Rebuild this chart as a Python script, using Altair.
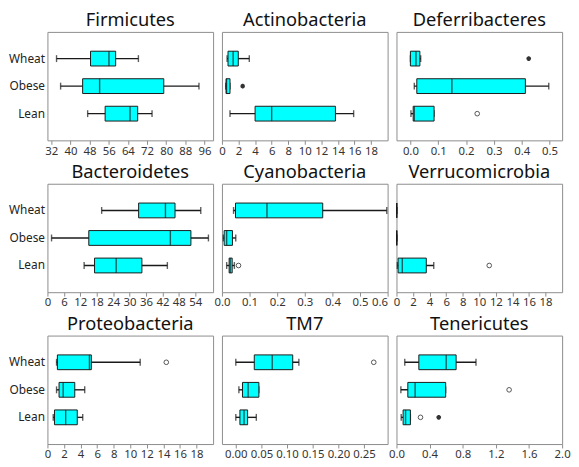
import altair as alt
import pandas as pd

GROUPS = ["Wheat", "Obese", "Lean"]
PHYLA = ["Firmicutes", "Actinobacteria", "Deferribacteres",
         "Bacteroidetes", "Cyanobacteria", "Verrucomicrobia",
         "Proteobacteria", "TM7", "Tenericutes"]

# rows = Wheat, Obese, Lean ; columns = [whisker low, Q1, median, Q3, whisker high]
firmicutes = [[34.2, 48.4, 56.1, 58.9, 68.4], [35.9, 45.1, 52.2, 79.0, 93.7], [47.2, 54.5, 64.9, 68.1, 74.1]]
actinobacteria = [[0.62, 0.73, 1.35, 1.97, 3.3], [0.45, 0.5, 0.55, 0.97, 0.97], [0.97, 4.0, 6.0, 13.7, 15.9]]
deferribacteres = [[0.0, 0.0, 0.02, 0.034, 0.037], [0.014, 0.023, 0.149, 0.413, 0.497], [0.002, 0.01, 0.014, 0.085, 0.085]]
bacteroidetes = [[19.8, 33.3, 43.1, 46.6, 56.0], [1.5, 15.1, 44.9, 52.4, 58.8], [13.4, 17.2, 25.1, 34.5, 43.8]]
cyanobacteria = [[0.042, 0.049, 0.163, 0.365, 0.597], [0.005, 0.008, 0.017, 0.038, 0.05], [0.017, 0.026, 0.03, 0.037, 0.045]]
verrucomicrobia = [[0.03, 0.03, 0.03, 0.03, 0.03], [0.03, 0.03, 0.03, 0.03, 0.03], [0.1, 0.2, 0.7, 3.6, 4.5]]
proteobacteria = [[1.1, 1.2, 5.07, 5.3, 11.2], [1.1, 1.4, 1.9, 3.3, 4.5], [0.7, 0.85, 2.2, 3.6, 4.26]]
tm7 = [[0.0, 0.036, 0.071, 0.111, 0.123], [0.006, 0.013, 0.024, 0.045, 0.045], [0.0, 0.008, 0.016, 0.023, 0.04]]
tenericutes = [[0.1, 0.27, 0.6, 0.72, 0.96], [0.053, 0.137, 0.225, 0.594, 0.594], [0.057, 0.08, 0.11, 0.168, 0.168]]

STATS = [firmicutes, actinobacteria, deferribacteres, bacteroidetes, cyanobacteria,
         verrucomicrobia, proteobacteria, tm7, tenericutes]

# outliers: phylum, group, value
mild_phylum = ["Deferribacteres", "Cyanobacteria", "Verrucomicrobia", "Proteobacteria", "TM7", "Tenericutes", "Tenericutes"]
mild_group = ["Lean", "Lean", "Lean", "Wheat", "Wheat", "Obese", "Lean"]
mild_value = [0.24, 0.06, 11.2, 14.35, 0.269, 1.36, 0.29]
extreme_phylum = ["Actinobacteria", "Deferribacteres", "Tenericutes"]
extreme_group = ["Obese", "Wheat", "Lean"]
extreme_value = [2.5, 0.425, 0.51]

# axis domain and tick labels per panel
DOMAINS = [[30.4, 99.6], [0, 20], [-0.05, 0.545],
           [0, 60.5], [0, 0.6], [0, 20],
           [0, 20], [-0.027, 0.296], [0, 2.0]]
TICKS = [[32, 40, 48, 56, 64, 72, 80, 88, 96],
         [0, 2, 4, 6, 8, 10, 12, 14, 16, 18],
         [0.0, 0.1, 0.2, 0.3, 0.4, 0.5],
         [0, 6, 12, 18, 24, 30, 36, 42, 48, 54],
         [0.0, 0.1, 0.2, 0.3, 0.4, 0.5, 0.6],
         [0, 2, 4, 6, 8, 10, 12, 14, 16, 18],
         [0, 2, 4, 6, 8, 10, 12, 14, 16, 18],
         [0.0, 0.05, 0.10, 0.15, 0.20, 0.25],
         [0.0, 0.4, 0.8, 1.2, 1.6, 2.0]]
FORMATS = ["d", "d", ".1f", "d", ".1f", "d", "d", ".2f", ".1f"]

FONT = "Noto Sans"
CYAN = "#00FFFF"
INK = "#1a1a1a"
W, H = 168, 110
ASTERISK = "M-1,0L1,0M0,-1L0,1M-0.7,-0.7L0.7,0.7M-0.7,0.7L0.7,-0.7"


def panel(i):
    name = PHYLA[i]
    st = STATS[i]
    df = pd.DataFrame({
        "group": GROUPS,
        "lo": [r[0] for r in st],
        "q1": [r[1] for r in st],
        "med": [r[2] for r in st],
        "q3": [r[3] for r in st],
        "hi": [r[4] for r in st],
    })
    mdf = pd.DataFrame({"group": [g for p, g in zip(mild_phylum, mild_group) if p == name],
                        "v": [v for p, v in zip(mild_phylum, mild_value) if p == name]})
    edf = pd.DataFrame({"group": [g for p, g in zip(extreme_phylum, extreme_group) if p == name],
                        "v": [v for p, v in zip(extreme_phylum, extreme_value) if p == name]})
    show_y = (i % 3 == 0)
    yaxis = alt.Axis(title=None) if show_y else None
    yenc = alt.Y("group:N", sort=GROUPS, title=None,
                 scale=alt.Scale(domain=GROUPS, paddingInner=0, paddingOuter=0.47),
                 axis=yaxis)
    xscale = alt.Scale(domain=DOMAINS[i], nice=False, zero=False)
    axis_kw = dict(values=TICKS[i], format=FORMATS[i], title=None)
    if name == "Cyanobacteria":
        axis_kw["labelAlign"] = {"condition": {"test": "datum.value >= 0.6", "value": "right"},
                                 "value": "center"}
    xaxis = alt.Axis(**axis_kw)

    def xf(field):
        return alt.X(field, type="quantitative", scale=xscale, axis=xaxis, title=None)

    base = alt.Chart(df)
    whisk = base.mark_rule(color=INK, strokeWidth=1.4).encode(x=xf("lo"), x2="hi", y=yenc)
    cap_lo = base.mark_tick(color=INK, thickness=1.4, size=7).encode(x=xf("lo"), y=yenc)
    cap_hi = base.mark_tick(color=INK, thickness=1.4, size=7).encode(x=xf("hi"), y=yenc)
    box = base.mark_bar(size=15, fill=CYAN, stroke=INK, strokeWidth=1).encode(x=xf("q1"), x2="q3", y=yenc)
    med = base.mark_tick(color=INK, thickness=1.4, size=15).encode(x=xf("med"), y=yenc)
    layers = [whisk, cap_lo, cap_hi, box, med]
    if len(mdf):
        layers.append(alt.Chart(mdf).mark_point(shape="circle", filled=False, size=22,
                                                 stroke="#555", strokeWidth=1, opacity=1)
                      .encode(x=xf("v"), y=yenc))
    if len(edf):
        layers.append(alt.Chart(edf).mark_point(shape=ASTERISK, filled=False, size=22,
                                                 stroke="#333", strokeWidth=1.5, opacity=1)
                      .encode(x=xf("v"), y=yenc))
    return alt.layer(*layers).properties(
        width=W, height=H,
        title=alt.TitleParams(name, anchor="middle"))


chart = alt.concat(*[panel(i) for i in range(9)], columns=3,
                   spacing={"row": 44, "column": 9}, bounds="flush")

chart = (chart
         .configure_view(stroke="#8c8c8c", strokeWidth=1)
         .configure_axis(grid=False, labelFont=FONT)
         .configure_axisX(domain=False, tickColor="#8c8c8c", tickSize=4, labelFontSize=11.5,
                          labelColor="#333", labelFlush=False, labelOverlap=False, labelPadding=1)
         .configure_axisY(domain=False, ticks=False, labelFontSize=12, labelColor="#222",
                          labelPadding=3)
         .configure_title(font=FONT, fontSize=18.5, fontWeight="normal", color="#111", offset=2)
         .properties(padding=0)
         )

chart.save("out.html", embed_options={"renderer": "svg", "actions": False})
